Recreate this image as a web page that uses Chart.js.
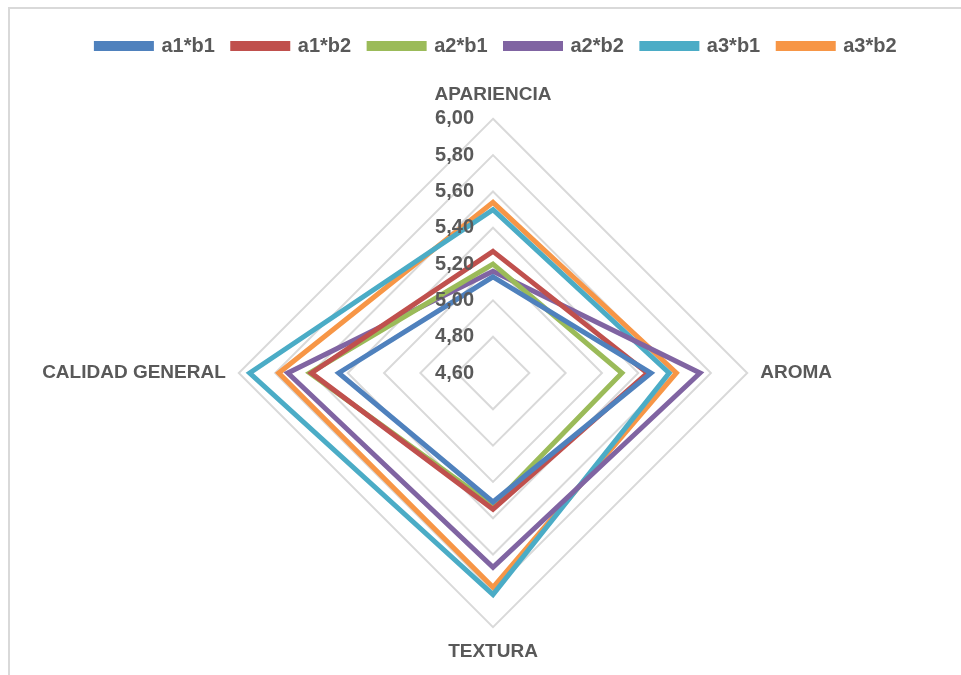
<!DOCTYPE html>
<html>
<head>
<meta charset="utf-8">
<script src="https://cdn.jsdelivr.net/npm/chart.js@4"></script>
<style>
    body { margin: 0; background: #fff; }
    #frame {
        position: absolute;
        left: 8px;
        top: 7px;
        width: 1000px;
        height: 700px;
        border-top: 2px solid #d9d9d9;
        border-left: 2px solid #d9d9d9;
    }
    #chartBox {
        position: absolute;
        left: 0;
        top: 0;
        width: 961px;
        height: 675px;
    }
</style>
</head>
<body>
<div id="frame"></div>
<div id="chartBox"><canvas id="radarChart"></canvas></div>
<script>
const categories = ['APARIENCIA', 'AROMA', 'TEXTURA', 'CALIDAD GENERAL'];
const tickLabels = ['4,60', '4,80', '5,00', '5,20', '5,40', '5,60', '5,80', '6,00'];

const a1b1 = [5.13, 5.47, 5.31, 5.45];
const a1b2 = [5.27, 5.45, 5.35, 5.60];
const a2b1 = [5.20, 5.31, 5.33, 5.61];
const a2b2 = [5.16, 5.74, 5.67, 5.73];
const a3b1 = [5.50, 5.57, 5.82, 5.94];
const a3b2 = [5.54, 5.61, 5.78, 5.78];

const textColor = '#595959';
const fontFamily = '"Liberation Sans", Arial, sans-serif';

function series(label, data, color) {
    return {
        label: label,
        data: data,
        borderColor: color,
        backgroundColor: color,
        borderWidth: 5,
        fill: false,
        pointRadius: 0,
        pointHoverRadius: 0,
        borderJoinStyle: 'miter'
    };
}

// tick labels sit to the left of the top axis, like the Excel original
const tickLabelPlugin = {
    id: 'tickLabels',
    afterDatasetsDraw(chart) {
        const scale = chart.scales.r;
        const ctx = chart.ctx;
        ctx.save();
        ctx.font = 'bold 20px ' + fontFamily;
        ctx.fillStyle = textColor;
        ctx.textAlign = 'right';
        ctx.textBaseline = 'middle';
        scale.ticks.forEach((t, i) => {
            const p = scale.getPointPositionForValue(0, t.value);
            ctx.fillText(tickLabels[i], p.x - 19, p.y);
        });
        ctx.restore();
    }
};

// extra room under the legend, and nudge it right a bit
const legendSpacing = {
    id: 'legendSpacing',
    beforeInit(chart) {
        const origFit = chart.legend.fit;
        chart.legend.fit = function() {
            origFit.bind(chart.legend)();
            this.height += 17;
        };
    },
    afterLayout(chart) {
        chart.legend.left += 16;
        chart.legend.right += 16;
    }
};

const ctx = document.getElementById('radarChart').getContext('2d');
new Chart(ctx, {
    type: 'radar',
    data: {
        labels: categories,
        datasets: [
            series('a1*b1', a1b1, '#4F81BD'),
            series('a1*b2', a1b2, '#C0504D'),
            series('a2*b1', a2b1, '#9BBB59'),
            series('a2*b2', a2b2, '#8064A2'),
            series('a3*b1', a3b1, '#4BACC6'),
            series('a3*b2', a3b2, '#F79646')
        ]
    },
    options: {
        responsive: true,
        maintainAspectRatio: false,
        animation: false,
        layout: {
            padding: { top: 18, bottom: 11, left: 20, right: 20 }
        },
        plugins: {
            legend: {
                position: 'top',
                labels: {
                    color: textColor,
                    font: { family: fontFamily, size: 20, weight: 'bold' },
                    boxWidth: 55,
                    boxHeight: 5,
                    padding: 18
                }
            },
            tooltip: { enabled: false }
        },
        scales: {
            r: {
                min: 4.6,
                max: 6.0,
                ticks: { stepSize: 0.2, display: false },
                grid: { color: '#d9d9d9', lineWidth: 2 },
                angleLines: { display: false },
                pointLabels: {
                    color: textColor,
                    font: { family: fontFamily, size: 19, weight: 'bold' },
                    padding: 13
                }
            }
        }
    },
    plugins: [tickLabelPlugin, legendSpacing]
});
</script>
</body>
</html>
